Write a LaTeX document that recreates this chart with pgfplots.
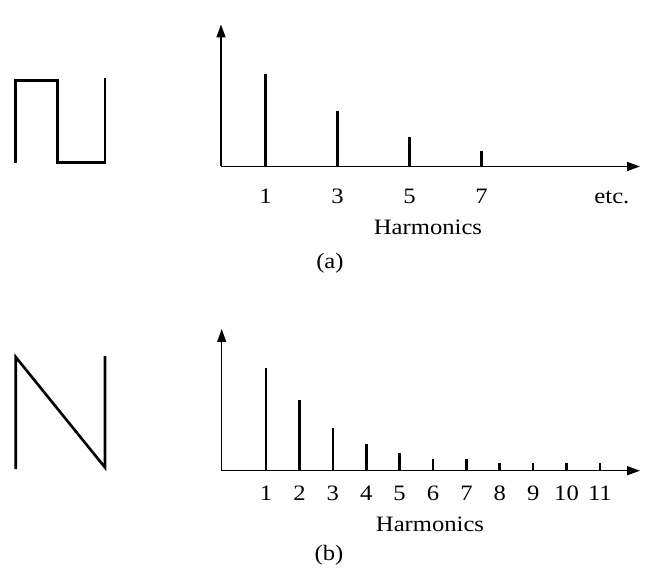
\documentclass[border=0pt]{standalone}
\usepackage{pgfplots}
\pgfplotsset{compat=1.18}
\usetikzlibrary{arrows.meta}
\usepackage{fontspec}
\setmainfont[FakeStretch=1.12]{Liberation Serif}

\newcommand\labelfont{\fontsize{22bp}{25bp}\selectfont}

\pgfplotsset{
  spectrum/.style={
    scale only axis, anchor=south west, clip=false,
    axis x line=bottom, axis y line=left,
    axis line style={line width=1.5bp, -{Triangle[length=13bp,width=9bp]}},
    major tick length=0pt, ytick=\empty, ymin=0,
    xticklabel style={anchor=base, font=\labelfont},
    xlabel style={anchor=base, font=\labelfont},
  },
  line spectrum/.style={ycomb, no marks, black, line width=2.6bp},
}

\begin{document}
\begin{tikzpicture}
\useasboundingbox (0,0) rectangle (646bp,573bp);

% waveforms, drawn in page units (y downwards)
\begin{axis}[at={(0,0)}, anchor=south west, scale only axis,
  width=646bp, height=573bp, xmin=0, xmax=646, ymin=0, ymax=573,
  y dir=reverse, hide axis, clip=false]
  % square wave
  \addplot[black, line width=2.6bp, line join=miter, no marks] coordinates {
    (15.7,163.5) (15.7,80.7) (57.3,80.7) (57.3,162.7) (105,162.7) (105,78.3)};
  % sawtooth
  \addplot[black, line width=2.6bp, line join=miter, no marks] coordinates {
    (15.7,469) (15.7,357) (105,467.5) (105,356)};
\end{axis}

% (a) odd harmonics of the square wave
\begin{axis}[spectrum, at={(221bp,406.5bp)}, width=419bp, height=142bp,
  xmin=-0.24, xmax=11.4, ymax=142,
  xtick={1,3,5,7,10.62}, xticklabels={1,3,5,7,etc.},
  xticklabel style={yshift=-37bp},
  xlabel={Harmonics},
  xlabel style={at={(axis description cs:0.494,0)}, yshift=-68.5bp}]
  \addplot[line spectrum] coordinates {(1,92) (3,55.5) (5,29) (7,15.8)};
  \node[anchor=base, font=\labelfont]
    at (axis description cs:0.26,0) [yshift=-102.5bp] {(a)};
\end{axis}

% (b) all harmonics of the sawtooth
\begin{axis}[spectrum, at={(221.7bp,102.3bp)}, width=418.3bp, height=141.7bp,
  xmin=-0.33, xmax=12.2, ymax=141.7,
  xtick={1,...,11}, xticklabels={1,2,3,4,5,6,7,8,9,10,11},
  xticklabel style={yshift=-29.3bp},
  xlabel={Harmonics},
  xlabel style={at={(axis description cs:0.498,0)}, yshift=-60.3bp}]
  \addplot[line spectrum] coordinates {(1,102.4) (2,70.7) (3,42.4) (4,26.7)
    (5,18) (6,11.4) (7,11.4) (8,8) (9,8) (10,8) (11,8)};
  \node[anchor=base, font=\labelfont]
    at (axis description cs:0.2565,0) [yshift=-89.3bp] {(b)};
\end{axis}
\end{tikzpicture}
\end{document}
